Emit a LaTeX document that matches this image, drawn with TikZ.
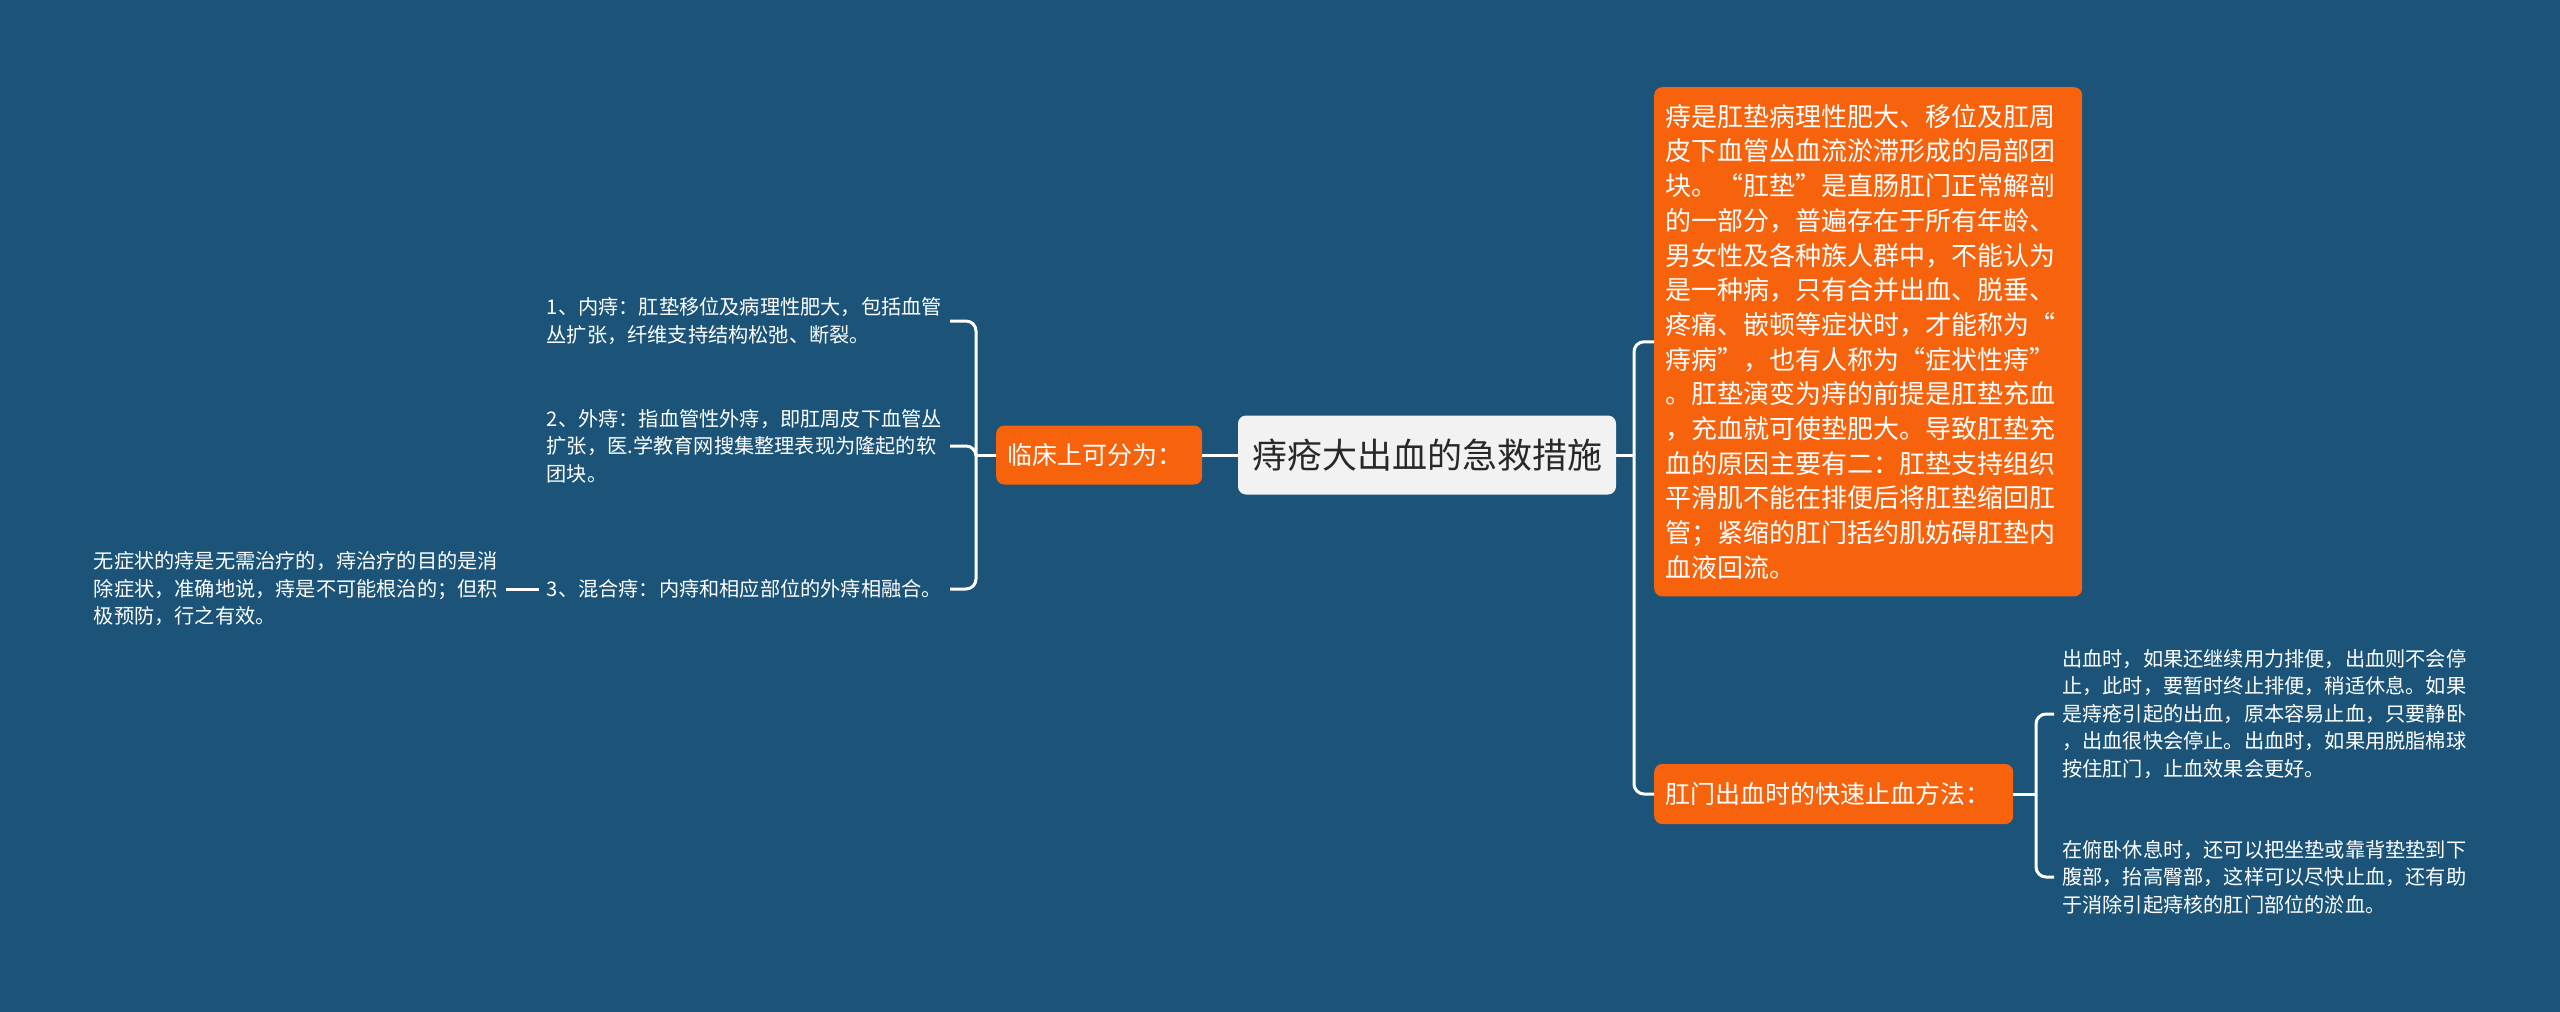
\documentclass[tikz,border=0pt]{standalone}
\usepackage{fontspec}
\setmainfont{Noto Sans CJK SC}
\usetikzlibrary{positioning}
\definecolor{bgblue}{RGB}{27,84,120}
\definecolor{topicorange}{RGB}{247,98,12}
\definecolor{rootgray}{RGB}{242,242,242}
\definecolor{rootink}{RGB}{40,40,40}

\begin{document}
\begin{tikzpicture}[x=1pt, y=-1pt,
  conn/.style={draw=white, line width=3pt, rounded corners=10pt},
  rootbox/.style={fill=rootgray, text=rootink, rounded corners=8pt, minimum width=378pt, minimum height=79pt, font=\fontsize{35}{40}\selectfont},
  topicbox/.style={fill=topicorange, text=white, rounded corners=8pt, align=left, inner xsep=11pt, font=\fontsize{25}{30}\selectfont},
  leaftext/.style={text=white, align=left, inner xsep=8pt, inner ysep=2pt, font=\fontsize{20.2}{27.5}\selectfont}]
  \fill[bgblue] (0,0) rectangle (2560,1012);
  \useasboundingbox (0,0) rectangle (2560,1012);

  \node[rootbox] (root) at (1427,455) {痔疮大出血的急救措施};

  \node[topicbox, anchor=west, text width=184pt, minimum height=59pt] (types) at (996,455) {临床上可分为：};
  \node[leaftext, anchor=east] (inner) at (950,321) {1、内痔：肛垫移位及病理性肥大，包括血管\\丛扩张，纤维支持结构松弛、断裂。};
  \node[leaftext, anchor=east] (outer) at (950,446) {2、外痔：指血管性外痔，即肛周皮下血管丛\\扩张，医.学教育网搜集整理表现为隆起的软\\团块。};
  \node[leaftext, anchor=east] (mixed) at (950,589) {3、混合痔：内痔和相应部位的外痔相融合。};
  \node[leaftext, anchor=east] (advice) at (506,589) {无症状的痔是无需治疗的，痔治疗的目的是消\\除症状，准确地说，痔是不可能根治的；但积\\极预防，行之有效。};

  \node[topicbox, anchor=north west, text width=406pt, inner ysep=17pt, font=\fontsize{26}{34.7}\selectfont] (cause) at (1654,87) {痔是肛垫病理性肥大、移位及肛周\\皮下血管丛血流淤滞形成的局部团\\块。“肛垫”是直肠肛门正常解剖\\的一部分，普遍存在于所有年龄、\\男女性及各种族人群中，不能认为\\是一种病，只有合并出血、脱垂、\\疼痛、嵌顿等症状时，才能称为“\\痔病”，也有人称为“症状性痔”\\。肛垫演变为痔的前提是肛垫充血\\，充血就可使垫肥大。导致肛垫充\\血的原因主要有二：肛垫支持组织\\平滑肌不能在排便后将肛垫缩回肛\\管；紧缩的肛门括约肌妨碍肛垫内\\血液回流。};
  \node[topicbox, anchor=west, text width=337pt, minimum height=60pt] (stop) at (1654,794) {肛门出血时的快速止血方法：};
  \node[leaftext, anchor=west] (rest) at (2054,714) {出血时，如果还继续用力排便，出血则不会停\\止，此时，要暂时终止排便，稍适休息。如果\\是痔疮引起的出血，原本容易止血，只要静卧\\，出血很快会停止。出血时，如果用脱脂棉球\\按住肛门，止血效果会更好。};
  \node[leaftext, anchor=west] (prone) at (2054,877) {在俯卧休息时，还可以把坐垫或靠背垫垫到下\\腹部，抬高臀部，这样可以尽快止血，还有助\\于消除引起痔核的肛门部位的淤血。};

  \coordinate (lb) at (976,455);
  \coordinate (rb) at (1634,455);
  \coordinate (bb) at (2036,794);
  \draw[conn] (root.west) -- (types.east);
  \draw[conn] (types.west) -- (lb);
  \foreach \n in {inner,outer,mixed}
    \draw[conn] (lb) |- (\n.east);
  \draw[conn] (mixed.west) -- (advice.east);
  \draw[conn] (root.east) -- (rb);
  \foreach \n in {cause,stop}
    \draw[conn] (rb) |- (\n.west);
  \draw[conn] (stop.east) -- (bb);
  \foreach \n in {rest,prone}
    \draw[conn] (bb) |- (\n.west);
\end{tikzpicture}
\end{document}
